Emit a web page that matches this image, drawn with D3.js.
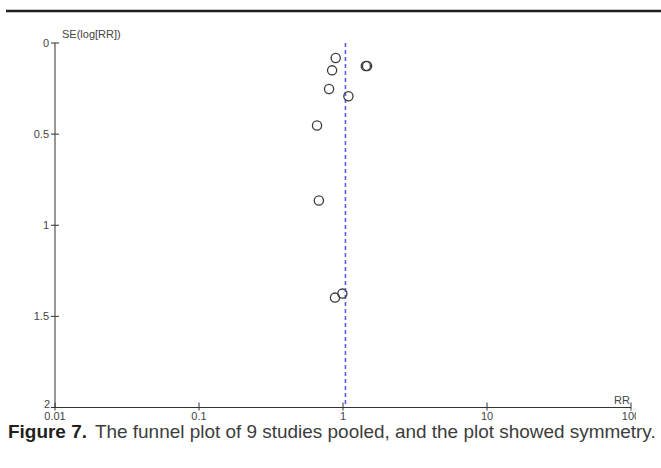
<!DOCTYPE html>
<html>
<head>
<meta charset="utf-8">
<script src="https://cdn.jsdelivr.net/npm/d3@7/dist/d3.min.js"></script>
<style>
  html, body { margin: 0; padding: 0; background: #fff; overflow: hidden; }
  svg { display: block; }
</style>
</head>
<body>
<script>
// Study estimates: relative risk and standard error of log(RR)
const studyRR = [0.89, 0.84, 1.44, 1.47, 0.80, 1.09, 0.66, 0.68, 0.88, 0.99];
const studySE = [0.082, 0.150, 0.126, 0.126, 0.252, 0.292, 0.453, 0.864, 1.397, 1.375];
const pooledRR = 1.04;
const xTicks = [0.01, 0.1, 1, 10, 100];
const xTickLabels = ["0.01", "0.1", "1", "10", "100"];
const yTicks = [0, 0.5, 1, 1.5, 2];
const yTickLabels = ["0", "0.5", "1", "1.5", "2"];

const W = 661, H = 468;
const svg = d3.select("body").append("svg").attr("width", W).attr("height", H);

const x = d3.scaleLog().domain([0.01, 100]).range([55, 631]);
const y = d3.scaleLinear().domain([0, 2]).range([43, 407.5]);

// top rule
svg.append("line").attr("x1", 6).attr("x2", W).attr("y1", 11).attr("y2", 11)
  .attr("stroke", "#231f20").attr("stroke-width", 2.4);

const axisColor = "#333";
const labelColor = "#444";
const font = "'Liberation Sans', Arial, sans-serif";
const fs = 11;

// y axis
const yAxis = svg.append("g").attr("transform", `translate(${x(0.01)},0)`);
yAxis.append("line").attr("y1", y(0)).attr("y2", y(2)).attr("stroke", axisColor);
yTicks.forEach((t, i) => {
  yAxis.append("line").attr("x1", -4).attr("x2", 4).attr("y1", y(t)).attr("y2", y(t)).attr("stroke", axisColor);
  const last = i === yTicks.length - 1;
  yAxis.append("text").attr("x", last ? -5 : -6).attr("y", y(t) - (last ? 3 : 0)).attr("dy", "0.35em")
    .attr("text-anchor", "end").attr("font-family", font).attr("font-size", fs)
    .attr("fill", labelColor).text(yTickLabels[i]);
});
yAxis.append("text").attr("x", 7).attr("y", y(0) - 5)
  .attr("font-family", font).attr("font-size", fs).attr("fill", labelColor).text("SE(log[RR])");

// x axis
const xAxis = svg.append("g").attr("transform", `translate(0,${y(2)})`);
xAxis.append("line").attr("x1", x(0.01)).attr("x2", x(100)).attr("stroke", axisColor);
svg.append("clipPath").attr("id", "xlabclip").append("rect")
  .attr("x", 0).attr("y", 0).attr("width", 636).attr("height", H);
xTicks.forEach((t, i) => {
  xAxis.append("line").attr("x1", x(t)).attr("x2", x(t)).attr("y1", -5).attr("y2", 3).attr("stroke", axisColor);
  xAxis.append("text").attr("x", x(t)).attr("y", 12).attr("text-anchor", "middle")
    .attr("clip-path", "url(#xlabclip)")
    .attr("font-family", font).attr("font-size", fs).attr("fill", labelColor).text(xTickLabels[i]);
});
xAxis.append("text").attr("x", x(100) - 1).attr("y", -4).attr("text-anchor", "end")
  .attr("font-family", font).attr("font-size", fs).attr("fill", labelColor).text("RR");

// pooled estimate
svg.append("line").attr("x1", x(pooledRR)).attr("x2", x(pooledRR))
  .attr("y1", y(0)).attr("y2", y(2) - 2)
  .attr("stroke", "#5b5bef").attr("stroke-width", 1.6).attr("stroke-dasharray", "4,3");

// studies
svg.append("g").selectAll("circle").data(studyRR.map((r, i) => ({ r, se: studySE[i] })))
  .join("circle")
  .attr("cx", d => x(d.r)).attr("cy", d => y(d.se)).attr("r", 4.6)
  .attr("fill", "none").attr("stroke", "#3a3a3a").attr("stroke-width", 1.3);

// caption, sized so it runs across the full width
const cap = svg.append("text").attr("x", 8).attr("y", 438)
  .attr("font-family", "'Liberation Sans', Arial, sans-serif").attr("font-size", 18).attr("fill", "#3c3c3c");
cap.append("tspan").attr("font-weight", "bold").attr("fill", "#231f20").text("Figure 7.");
cap.append("tspan").attr("dx", 8).text("The funnel plot of 9 studies pooled, and the plot showed symmetry.");
const wNat = cap.node().getComputedTextLength();
cap.attr("font-size", 18 * 640 / wNat);
</script>
</body>
</html>
